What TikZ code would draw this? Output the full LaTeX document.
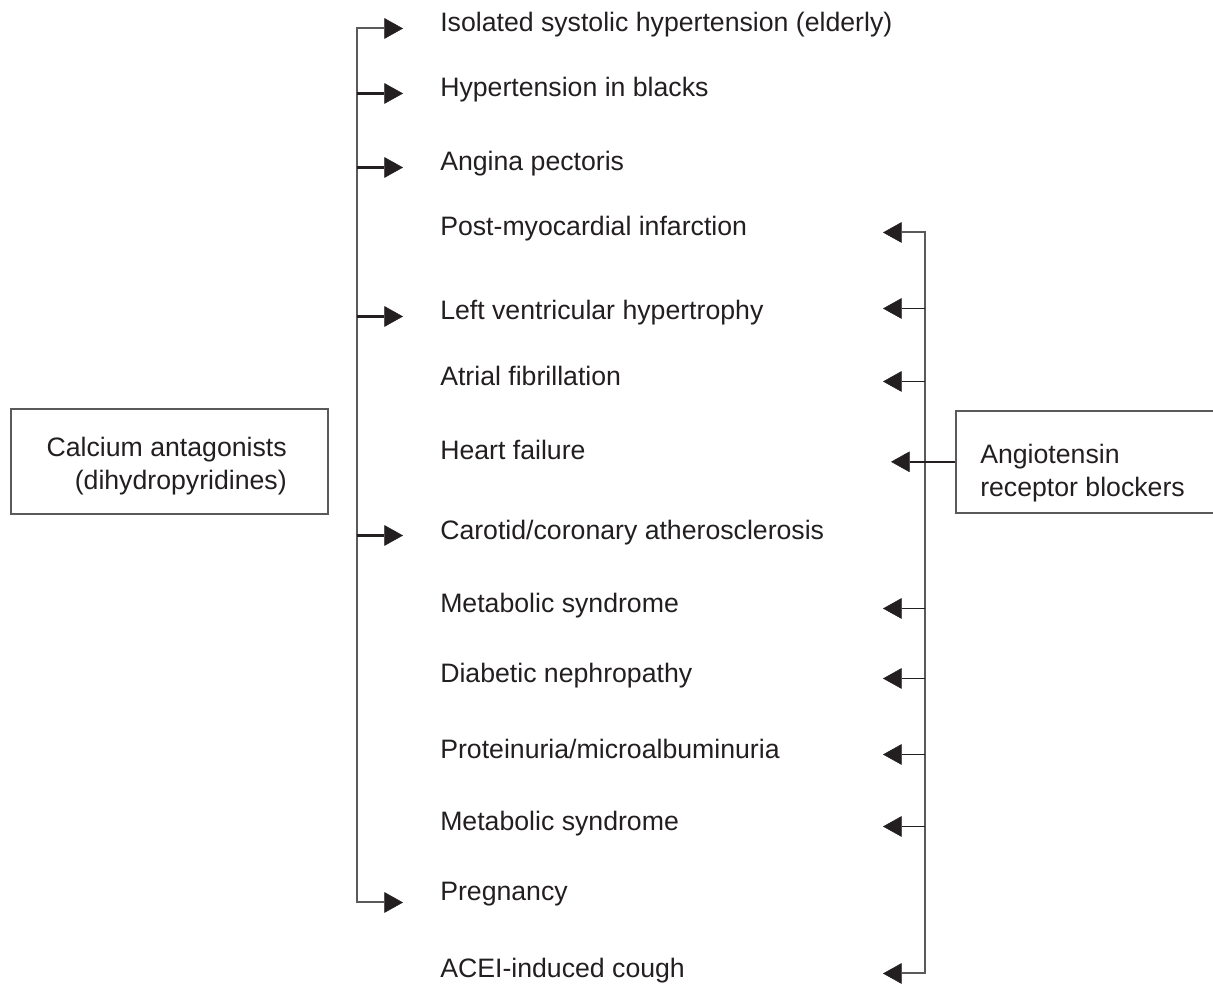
\documentclass[tikz,border=0pt]{standalone}
\usepackage{fontspec}
\setmainfont{Liberation Sans}
\usetikzlibrary{arrows.meta}
\definecolor{ink}{HTML}{231F20}
\definecolor{rule}{HTML}{5A5A5A}
\tikzset{>={Triangle[length=14pt,width=15.5pt,line width=0.4pt,fill=ink,color=ink]}}
\tikzset{
  item/.style={anchor=base west, inner sep=0pt, text=ink},
  box/.style={draw=rule, line width=1.2pt, inner sep=0pt},
  boxtext/.style={inner sep=0pt, text=ink},
  bus/.style={draw=rule, line width=1.5pt},
  cca/.style={->, draw=ink, line width=2.25pt},
  ara/.style={->, draw=ink, line width=1.3pt}
}

\begin{document}
\begin{tikzpicture}[x=0.75pt, y=-0.75pt, font=\fontsize{20}{24.4}\selectfont]
\useasboundingbox (0,0) rectangle (1213,987);
\clip (0,0) rectangle (1213,987);

% indications
\node[item] (iso) at (440,32) {Isolated systolic hypertension (elderly)};
\node[item] (blk) at (440,97) {Hypertension in blacks};
\node[item] (ang) at (440,171) {Angina pectoris};
\node[item] (post) at (440,236) {Post-myocardial infarction};
\node[item] (lvh) at (440,320) {Left ventricular hypertrophy};
\node[item] (af) at (440,385) {Atrial fibrillation};
\node[item] (hf) at (440,459) {Heart failure};
\node[item] (car) at (440,539) {Carotid/coronary atherosclerosis};
\node[item] (ms1) at (440,612) {Metabolic syndrome};
\node[item] (dn) at (440,682) {Diabetic nephropathy};
\node[item] (prot) at (440,758) {Proteinuria/microalbuminuria};
\node[item] (ms2) at (440,830) {Metabolic syndrome};
\node[item] (preg) at (440,900) {Pregnancy};
\node[item] (acei) at (440,977) {ACEI-induced cough};

% drug classes
\node[box, anchor=north west, minimum width=237.75pt, minimum height=78.75pt] (cab) at (10,408) {};
\node[boxtext, anchor=north east, align=right] (cabt) at (287,437) {Calcium antagonists\\(dihydropyridines)};
\node[box, anchor=north west, minimum width=225pt, minimum height=76.5pt] (arb) at (955,410) {};
\node[boxtext, anchor=north west, align=left] (arbt) at (980,444) {Angiotensin\\receptor blockers};

\coordinate (lbus) at (357,0);
\coordinate (ltip) at (403,0);
\coordinate (rbus) at (925,0);
\coordinate (rtip) at (883,0);
\coordinate (htip) at (891,0);
\coordinate (pregl) at ([yshift=-4.5pt]preg.mid west);
\coordinate (lvhr) at ([yshift=6pt]lvh.mid west);

% calcium antagonists
\draw[bus, <->] (ltip |- iso.mid west) -- (lbus |- iso.mid west) -- (lbus |- pregl) -- (ltip |- pregl);
\draw[cca] (lbus |- blk.mid west) -- (ltip |- blk.mid west);
\draw[cca] (lbus |- ang.mid west) -- (ltip |- ang.mid west);
\draw[cca] (lbus |- lvh.mid west) -- (ltip |- lvh.mid west);
\draw[cca] (lbus |- car.mid west) -- (ltip |- car.mid west);

% angiotensin receptor blockers
\draw[bus, <->] (rtip |- post.mid west) -- (rbus |- post.mid west) -- (rbus |- acei.mid west) -- (rtip |- acei.mid west);
\draw[ara] (rbus |- lvhr) -- (rtip |- lvhr);
\draw[ara] (rbus |- af.mid west) -- (rtip |- af.mid west);
\draw[ara] (rbus |- ms1.mid west) -- (rtip |- ms1.mid west);
\draw[ara] (rbus |- dn.mid west) -- (rtip |- dn.mid west);
\draw[ara] (rbus |- prot.mid west) -- (rtip |- prot.mid west);
\draw[ara] (rbus |- ms2.mid west) -- (rtip |- ms2.mid west);
\draw[ara] (arb.west) -- (arb.west -| htip);
\end{tikzpicture}
\end{document}
